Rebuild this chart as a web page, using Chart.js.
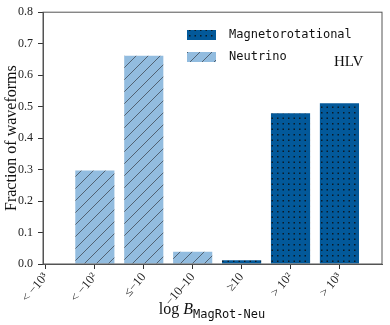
<!DOCTYPE html>
<html>
<head>
<meta charset="utf-8">
<script src="https://cdn.jsdelivr.net/npm/chart.js@4/dist/chart.umd.min.js"></script>
<style>
  body { margin: 0; background: #fff; }
  canvas { display: block; }
</style>
</head>
<body>
<canvas id="chart" width="390" height="325"></canvas>
<script>
// ------------------- data -------------------
const categories = ["< −10³", "< −10²", "≤−10", "−10–10", "≥10", "> 10²", "> 10³"];
const neutrino = [0, 0.297, 0.662, 0.039, 0, 0, 0];
const magRot = [0, 0, 0, 0, 0.012, 0.479, 0.511];
const yTicks = [0, 0.1, 0.2, 0.3, 0.4, 0.5, 0.6, 0.7, 0.8];

const SERIF = "'Liberation Serif', 'DejaVu Serif', serif";
const MONO = "'DejaVu Sans Mono', 'Liberation Mono', monospace";

// ------------------- patterns -------------------
function hatchPattern() {
    const n = 12;
    const c = document.createElement("canvas");
    c.width = n; c.height = n;
    const g = c.getContext("2d");
    g.fillStyle = "#92bcdf";
    g.fillRect(0, 0, n, n);
    g.strokeStyle = "#4a5866";
    g.lineWidth = 0.9;
    g.beginPath();
    g.moveTo(-1, n + 1); g.lineTo(n + 1, -1);
    g.moveTo(-1, 1); g.lineTo(1, -1);
    g.moveTo(n - 1, n + 1); g.lineTo(n + 1, n - 1);
    g.stroke();
    return g.createPattern(c, "repeat");
}

function dotPattern() {
    const c = document.createElement("canvas");
    c.width = 11; c.height = 11;
    const g = c.getContext("2d");
    g.fillStyle = "#03599a";
    g.fillRect(0, 0, 11, 11);
    g.fillStyle = "#0b1a26";
    [[2, 2], [7.5, 2], [2, 7.5], [7.5, 7.5]].forEach(([x, y]) => g.fillRect(x, y, 1.5, 1.5));
    return g.createPattern(c, "repeat");
}

const toXY = arr => arr.map((v, i) => ({ x: i, y: v }));

// ------------------- plugins -------------------
const frame = {
    id: "frame",
    afterDraw(chart) {
        const { ctx, chartArea: a } = chart;
        ctx.save();
        ctx.strokeStyle = "#555";
        ctx.lineWidth = 1;
        ctx.strokeRect(a.left, a.top, a.right - a.left, a.bottom - a.top);
        ctx.restore();
    }
};

const legendBox = {
    id: "legendBox",
    afterDraw(chart) {
        const { ctx } = chart;
        ctx.save();
        ctx.textBaseline = "middle";
        ctx.font = `12px ${MONO}`;
        const rows = [chart.data.datasets[1], chart.data.datasets[0]];
        rows.forEach((ds, i) => {
            const y = 30 + i * 22;
            ctx.fillStyle = ds.backgroundColor;
            ctx.fillRect(187, y, 29, 10);
            ctx.fillStyle = "#111";
            ctx.fillText(ds.label, 229, y + 5);
        });
        ctx.font = `15px ${SERIF}`;
        ctx.textBaseline = "alphabetic";
        ctx.fillText("HLV", 334, 66);
        ctx.restore();
    }
};

const xTitle = {
    id: "xTitle",
    afterDraw(chart) {
        const { ctx } = chart;
        ctx.save();
        ctx.fillStyle = "#111";
        ctx.textBaseline = "alphabetic";
        const base = 314;
        const p1 = "log ", p2 = "B", p3 = "MagRot-Neu";
        ctx.font = `16px ${SERIF}`;
        const w1 = ctx.measureText(p1).width;
        ctx.font = `italic 16px ${SERIF}`;
        const w2 = ctx.measureText(p2).width;
        ctx.font = `12px ${MONO}`;
        const w3 = ctx.measureText(p3).width;
        let x = 212 - (w1 + w2 + w3) / 2;
        ctx.font = `16px ${SERIF}`;
        ctx.fillText(p1, x, base); x += w1;
        ctx.font = `italic 16px ${SERIF}`;
        ctx.fillText(p2, x, base); x += w2;
        ctx.font = `12px ${MONO}`;
        ctx.fillText(p3, x, base + 4);
        ctx.restore();
    }
};

// ------------------- chart -------------------
const axisGrid = {
    display: true, offset: false, drawOnChartArea: false,
    drawTicks: true, tickLength: 5, tickColor: "#333", tickWidth: 1
};

new Chart(document.getElementById("chart"), {
    type: "bar",
    data: {
        datasets: [
            {
                label: "Neutrino",
                data: toXY(neutrino),
                backgroundColor: hatchPattern(),
                borderWidth: 0
            },
            {
                label: "Magnetorotational",
                data: toXY(magRot),
                backgroundColor: dotPattern(),
                borderWidth: 0
            }
        ]
    },
    options: {
        responsive: false,
        animation: false,
        layout: { padding: { top: 7, right: 8, left: 0, bottom: 0 } },
        datasets: { bar: { grouped: false, categoryPercentage: 1, barPercentage: 0.8 } },
        plugins: { legend: { display: false }, tooltip: { enabled: false } },
        scales: {
            x: {
                type: "linear",
                offset: false,
                min: -0.06,
                max: 6.87,
                afterBuildTicks: s => { s.ticks = categories.map((_, i) => ({ value: i })); },
                afterFit: s => { s.height = 61; },
                grid: axisGrid,
                border: { color: "#555", width: 1 },
                ticks: {
                    autoSkip: false,
                    minRotation: 50,
                    maxRotation: 50,
                    padding: 1,
                    color: "#222",
                    font: { family: SERIF, size: 12.5 },
                    callback: v => categories[v] ?? ""
                }
            },
            y: {
                min: 0,
                max: 0.8,
                afterBuildTicks: s => { s.ticks = yTicks.map(v => ({ value: v })); },
                afterFit: s => { s.width = 43; },
                grid: axisGrid,
                border: { color: "#555", width: 1 },
                ticks: {
                    padding: 5,
                    color: "#222",
                    font: { family: SERIF, size: 12 },
                    callback: v => v.toFixed(1)
                },
                title: {
                    display: true,
                    text: "Fraction of waveforms",
                    color: "#111",
                    font: { family: SERIF, size: 16 },
                    padding: { top: 2, bottom: 0 }
                }
            }
        }
    },
    plugins: [frame, legendBox, xTitle]
});
</script>
</body>
</html>
